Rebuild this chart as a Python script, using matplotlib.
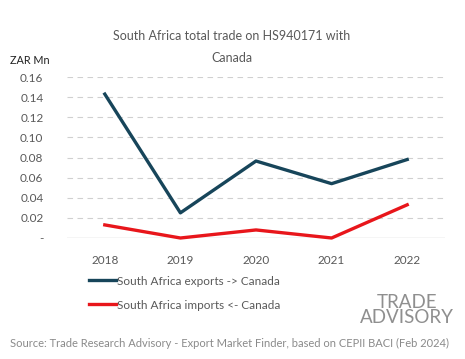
import numpy as np
import matplotlib.pyplot as plt

plt.rcParams['font.family'] = ['Lato', 'DejaVu Sans']

years = ['2018', '2019', '2020', '2021', '2022']
exports = [0.143, 0.025, 0.0765, 0.054, 0.078]
imports = [0.013, 0.0, 0.008, 0.0, 0.033]
yticks = [0, 0.02, 0.04, 0.06, 0.08, 0.10, 0.12, 0.14, 0.16]
ylabels = ['-', '0.02', '0.04', '0.06', '0.08', '0.10', '0.12', '0.14', '0.16']

grey = '#595959'
fig = plt.figure(figsize=(4.65, 3.59), dpi=100)
ax = fig.add_axes([67/465, 1-238/359, (445-67)/465, (238-77)/359])

x = np.arange(len(years))
l1, = ax.plot(x, exports, color='#17455a', lw=2.4, label='South Africa exports -> Canada')
l2, = ax.plot(x, imports, color='#e8161b', lw=2.4, label='South Africa imports <- Canada')

ax.set_xlim(-0.5, 4.5)
ax.set_ylim(0, 0.16)
ax.set_xticks(x, years)
ax.set_yticks(yticks, ylabels)
for t in yticks[1:]:
    ax.axhline(t, color='#d0d0d0', lw=0.8, ls=(0, (5, 4)), zorder=0)
ax.axhline(0, color='#d0d0d0', lw=1, zorder=0)
for s in ax.spines.values():
    s.set_visible(False)
ax.tick_params(length=0, labelsize=8.5, colors=grey)
ax.tick_params(axis='x', pad=12)
ax.tick_params(axis='y', pad=17)
for ln in (l1, l2):
    ln.set_clip_on(False)

fig.text(232/465, 1-36/359, 'South Africa total trade on HS940171 with',
         ha='center', va='center', fontsize=9.0, color=grey)
fig.text(232/465, 1-58/359, 'Canada',
         ha='center', va='center', fontsize=9.0, color=grey)
fig.text(10/465, 1-60/359, 'ZAR Mn', ha='left', va='center', fontsize=7.8, color='#222222')

fig.legend(handles=[l1, l2], loc='upper left', bbox_to_anchor=(78/465, 1-265/359),
           frameon=False, fontsize=8.5, labelcolor=grey, handlelength=2.3,
           handletextpad=0.1, labelspacing=1.1)

fig.text(407/465, 1-310/359, 'TRADE\nADVISORY', ha='center', va='center', fontsize=13.5,
         color='#8f8f8f', linespacing=0.9)
fig.text(10/465, 1-343/359, 'Source: Trade Research Advisory - Export Market Finder, based on CEPII BACI (Feb 2024)',
         ha='left', va='center', fontsize=8.0, color='#8a8a8a')

fig.savefig('out.png', dpi=100)
